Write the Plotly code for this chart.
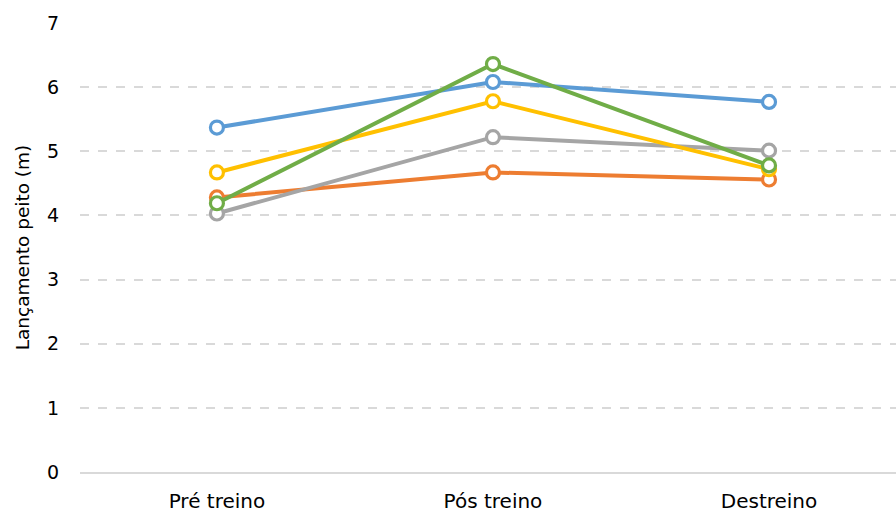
import plotly.graph_objects as go

categories = ["Pré treino", "Pós treino", "Destreino"]
blue = [5.37, 6.08, 5.77]
orange = [4.28, 4.67, 4.56]
gray = [4.03, 5.22, 5.01]
yellow = [4.67, 5.78, 4.72]
green = [4.19, 6.36, 4.78]
y_ticks = [0, 1, 2, 3, 4, 5, 6, 7]

series = [
    (blue, "#5B9BD5"),
    (orange, "#ED7D31"),
    (gray, "#A5A5A5"),
    (yellow, "#FFC000"),
    (green, "#70AD47"),
]

fig = go.Figure()
for vals, col in series:
    fig.add_trace(go.Scatter(
        x=[0, 1, 2], y=vals, mode="lines+markers",
        line=dict(color=col, width=4),
        marker=dict(symbol="circle", size=13, color="white",
                    line=dict(color=col, width=3.2)),
        showlegend=False, cliponaxis=False,
    ))

fontfam = "DejaVu Sans"
fig.update_layout(
    width=896, height=512,
    margin=dict(l=80, r=0, t=23, b=40),
    paper_bgcolor="white", plot_bgcolor="white",
    font=dict(family=fontfam, color="#000000", size=19),
    xaxis=dict(
        range=[-0.496, 2.46], tickvals=[0, 1, 2], ticktext=categories,
        showgrid=False, zeroline=False, showline=True,
        linecolor="#D9D9D9", linewidth=1.5, ticks="",
        ticklabelstandoff=10,
        tickfont=dict(size=20),
    ),
    yaxis=dict(
        range=[0, 7], tickvals=y_ticks, showgrid=True,
        gridcolor="#D9D9D9", griddash="dash", gridwidth=1.5,
        zeroline=False, showline=False, ticks="",
        ticklabelstandoff=20,
        tickfont=dict(size=19),
        title=dict(text="Lançamento peito (m)", font=dict(size=18.5), standoff=12),
    ),
)
fig.write_html("out.html")
